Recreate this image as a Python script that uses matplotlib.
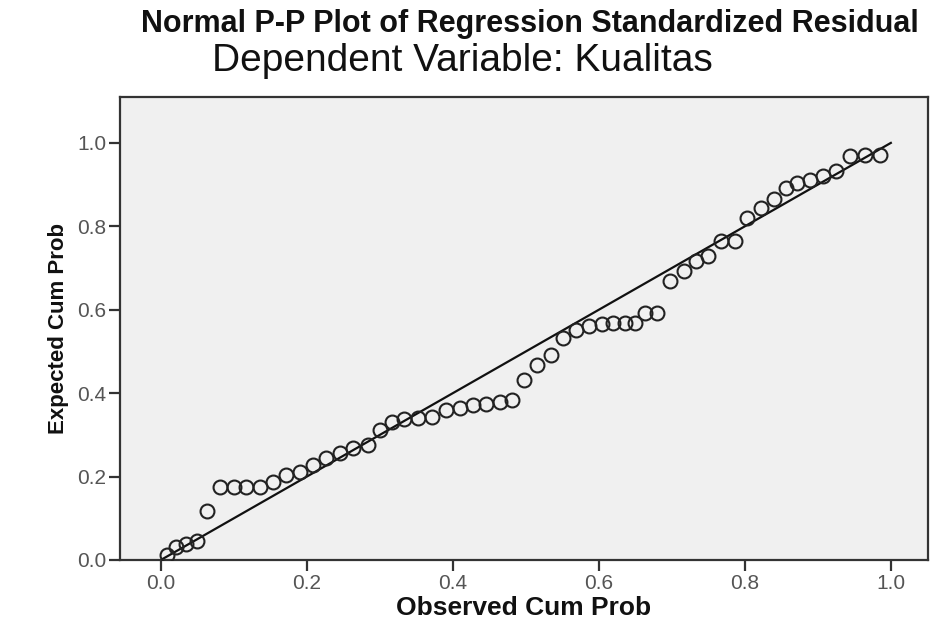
import matplotlib.pyplot as plt

# Observed vs expected cumulative probabilities
observed = [0.008, 0.021, 0.034, 0.049, 0.063, 0.081, 0.100, 0.117, 0.136, 0.154,
            0.172, 0.190, 0.208, 0.226, 0.245, 0.263, 0.284, 0.300, 0.316, 0.333,
            0.352, 0.372, 0.391, 0.410, 0.428, 0.446, 0.464, 0.481, 0.497, 0.515,
            0.535, 0.551, 0.569, 0.586, 0.604, 0.620, 0.636, 0.650, 0.663, 0.680,
            0.698, 0.716, 0.733, 0.750, 0.768, 0.786, 0.803, 0.822, 0.840, 0.856,
            0.872, 0.889, 0.907, 0.925, 0.944, 0.964, 0.985]
expected = [0.012, 0.030, 0.038, 0.046, 0.118, 0.174, 0.174, 0.174, 0.176, 0.188,
            0.204, 0.212, 0.228, 0.244, 0.256, 0.268, 0.276, 0.312, 0.332, 0.338,
            0.340, 0.344, 0.360, 0.364, 0.372, 0.374, 0.379, 0.384, 0.432, 0.468,
            0.492, 0.533, 0.552, 0.560, 0.566, 0.568, 0.568, 0.568, 0.592, 0.592,
            0.670, 0.694, 0.716, 0.728, 0.764, 0.764, 0.820, 0.844, 0.866, 0.892,
            0.904, 0.912, 0.920, 0.932, 0.968, 0.972, 0.970]
diag = [0.0, 1.0]
ticks = [0.0, 0.2, 0.4, 0.6, 0.8, 1.0]
tick_labels = ['0.0', '0.2', '0.4', '0.6', '0.8', '1.0']

plt.rcParams['font.family'] = ['Liberation Sans', 'DejaVu Sans']

fig = plt.figure(figsize=(9.47, 6.2), dpi=100)
ax = fig.add_axes([0.1267, 0.0968, 0.8533, 0.7467])
ax.set_facecolor('#f0f0f0')

ax.plot(diag, diag, color='#111111', lw=1.6, zorder=2)
ax.plot(observed, expected, 'o', ms=10, mfc='none', mec='#222222', mew=1.5, zorder=3)

ax.set_xlim(-0.056, 1.051)
ax.set_ylim(0.0, 1.11)
ax.set_xticks(ticks)
ax.set_xticklabels(tick_labels)
ax.set_yticks(ticks)
ax.set_yticklabels(tick_labels)
ax.tick_params(direction='out', length=8, width=1.6, colors='#333333',
               labelcolor='#555555', labelsize=15, pad=2)

for s in ax.spines.values():
    s.set_color('#333333')
    s.set_linewidth(1.6)

ax.set_xlabel('Observed Cum Prob', fontsize=19, fontweight='bold', color='#111111')
ax.xaxis.label.set_va('center')
ax.xaxis.set_label_coords(0.5, -0.103)
ax.set_ylabel('Expected Cum Prob', fontsize=16, fontweight='bold', color='#111111', labelpad=6)

fig.text(0.56, 0.962, 'Normal P-P Plot of Regression Standardized Residual',
         ha='center', va='center', fontsize=22, fontweight='bold', color='#111111')
fig.text(0.488, 0.902, 'Dependent Variable: Kualitas',
         ha='center', va='center', fontsize=28, color='#111111')

fig.savefig('out.png', dpi=100)
